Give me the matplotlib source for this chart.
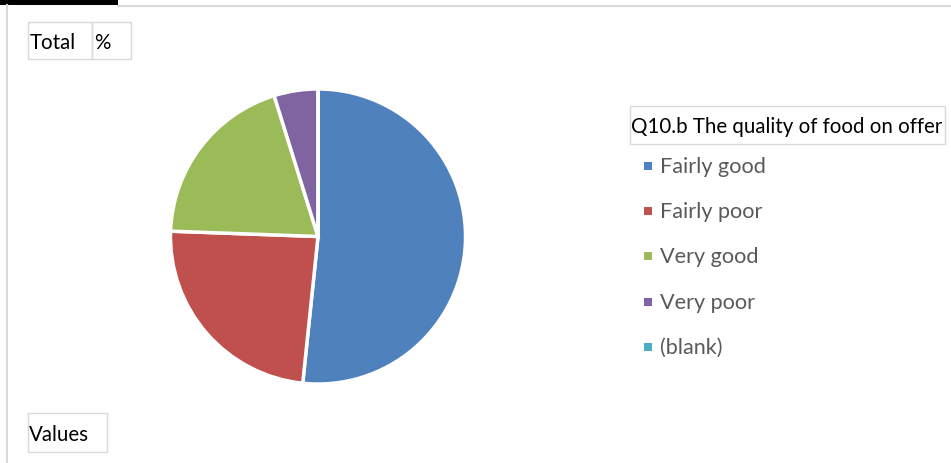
import matplotlib.pyplot as plt
from matplotlib.patches import Rectangle

labels = ["Fairly good", "Fairly poor", "Very good", "Very poor", "(blank)"]
values = [51.6, 23.9, 19.6, 4.8, 0.0]
colors = ["#4F81BD", "#C0504D", "#9BBB59", "#8064A2", "#4BACC6"]
legend_title = "Q10.b The quality of food on offer"

W, H = 951, 464
plt.rcParams["font.family"] = ["Lato", "DejaVu Sans"]

fig = plt.figure(figsize=(W / 100, H / 100), dpi=100)


def fx(x):
    return x / W


def fy(y):
    return 1 - y / H


def box(x0, y0, x1, y1, ec="#d9d9d9", fc="none", lw=1.0):
    fig.patches.append(Rectangle((fx(x0), fy(y1)), fx(x1) - fx(x0), fy(y0) - fy(y1),
                                 transform=fig.transFigure, fc=fc, ec=ec, lw=lw))


# frame / black tab at the top
box(0, 0, 118, 6, ec="none", fc="black")
fig.add_artist(plt.Line2D([fx(118), 1], [fy(6.5), fy(6.5)], color="#d9d9d9", lw=1.5, transform=fig.transFigure))
fig.add_artist(plt.Line2D([fx(7), fx(7)], [fy(6), 0], color="#d9d9d9", lw=1.5, transform=fig.transFigure))

# field buttons
box(28, 23, 92, 60)
box(92, 23, 131, 60)
fig.text(fx(30), fy(43), "Total", fontsize=14.8, va="center", ha="left", color="black")
fig.text(fx(94), fy(43), "%", fontsize=14.8, va="center", ha="left", color="black")
box(28, 414, 107, 453)
fig.text(fx(29), fy(435), "Values", fontsize=14.8, va="center", ha="left", color="black")

# pie
cx, cy, r = 318, 237.5, 149
ax = fig.add_axes([fx(cx - r), fy(cy + r), 2 * r / W, 2 * r / H])
ax.pie(values, colors=colors, startangle=90, counterclock=False, radius=1,
       wedgeprops=dict(edgecolor="white", linewidth=2.5))
ax.set_xlim(-1.01, 1.01)
ax.set_ylim(-1.01, 1.01)
ax.set_aspect("equal")
ax.axis("off")

# legend
box(630, 107, 945, 145)
fig.text(fx(631), fy(127), legend_title, fontsize=14.8, va="center", ha="left", color="black")
for i, (lab, col) in enumerate(zip(labels, colors)):
    yy = 167 + i * 45.2
    box(644, yy - 4, 652, yy + 4, ec="none", fc=col)
    fig.text(fx(660), fy(yy), lab, fontsize=15.6, va="center", ha="left", color="#595959")

fig.savefig("out.png", dpi=100)
